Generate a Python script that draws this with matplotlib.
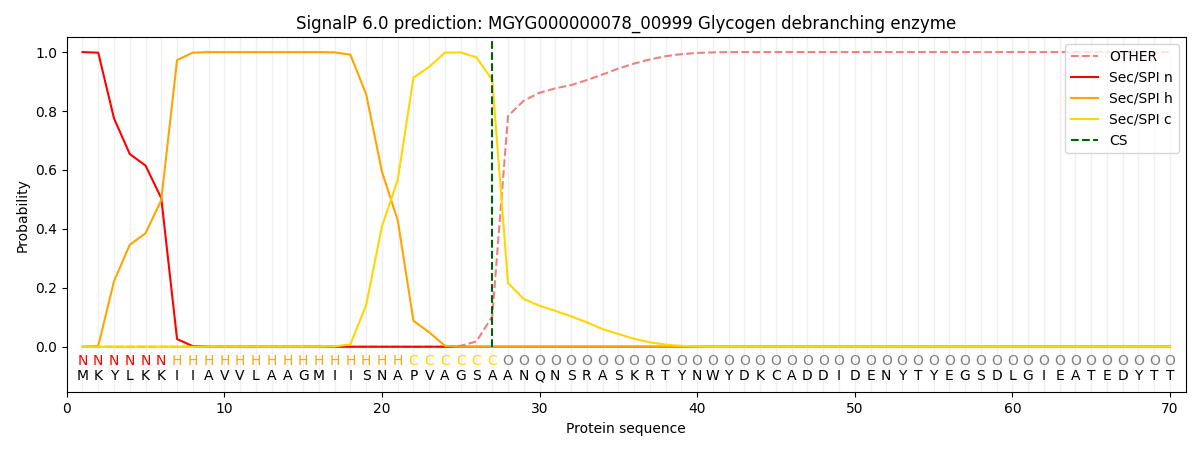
import matplotlib
matplotlib.use("Agg")
import matplotlib.pyplot as plt

# residues and per-position labels
sequence = list("MKYLKKIIAVVLAAGMIISNAPVAGSAANQNSRASKRTYNWYDKCADDIDENYTYEGSDLGIEATEDYTT")
labels = list("N" * 6 + "H" * 15 + "C" * 6 + "O" * 43)
positions = list(range(1, 71))

# Sec/SPI n
sp_n = [1.0, 0.998, 0.775, 0.654, 0.615, 0.504, 0.026, 0.002] + [0.0] * 62
# Sec/SPI h
sp_h = [0.0, 0.003, 0.222, 0.346, 0.385, 0.498, 0.973, 0.998,
        1.0, 1.0, 1.0, 1.0, 1.0, 1.0, 1.0, 1.0, 0.999, 0.991,
        0.857, 0.594, 0.430, 0.088, 0.049, 0.003] + [0.0] * 46
# Sec/SPI c
sp_c = [0.0] * 16 + [0.001, 0.008, 0.142, 0.408, 0.566, 0.913, 0.950,
                     0.998, 0.999, 0.982, 0.905, 0.216, 0.162, 0.139,
                     0.122, 0.103, 0.083, 0.060, 0.043, 0.027, 0.015,
                     0.007, 0.003, 0.001] + [0.0] * 30
# OTHER
other = [0.0] * 24 + [0.003, 0.018, 0.103, 0.783, 0.835, 0.862, 0.877,
                      0.888, 0.905, 0.924, 0.944, 0.961, 0.975, 0.986,
                      0.993, 0.997, 0.999] + [1.0] * 29
cs_pos = 27

label_colors = {"N": "red", "H": "orange", "C": "gold", "O": "grey"}

fig = plt.figure(figsize=(12, 4.5), dpi=100)
ax = fig.add_axes([0.0556, 0.128, 0.9325, 0.789])

# light vertical grid at each residue
for p in positions:
    ax.axvline(p, color="#efefef", linewidth=0.9, zorder=0)

ax.plot(positions, other, "--", color="lightcoral", label="OTHER")
ax.plot(positions, sp_n, color="red", label="Sec/SPI n")
ax.plot(positions, sp_h, color="orange", label="Sec/SPI h")
ax.plot(positions, sp_c, color="gold", label="Sec/SPI c")
ax.plot([cs_pos, cs_pos], [0, 1.05], "--", color="darkgreen", label="CS")

for p, lab, aa in zip(positions, labels, sequence):
    ax.text(p, -0.05, lab, color=label_colors[lab], ha="center", va="center", fontsize=10)
    ax.text(p, -0.10, aa, color="black", ha="center", va="center", fontsize=10)

ax.set_xlim(0, 71)
ax.set_ylim(-0.155, 1.05)
ax.set_yticks([0.0, 0.2, 0.4, 0.6, 0.8, 1.0])
ax.set_xlabel("Protein sequence")
ax.set_ylabel("Probability")
ax.set_title("SignalP 6.0 prediction: MGYG000000078_00999 Glycogen debranching enzyme")
ax.legend(loc="upper right")

fig.savefig("out.png")
